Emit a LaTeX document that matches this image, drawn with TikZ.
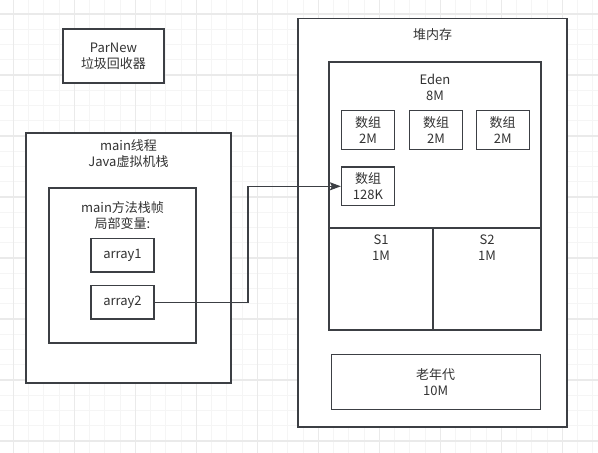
\documentclass[tikz,border=0pt]{standalone}
\usepackage{fontspec}
\setmainfont{Noto Sans CJK SC}
\usetikzlibrary{arrows.meta, positioning}
\definecolor{LineGray}{RGB}{60,63,68}
\definecolor{TextGray}{RGB}{51,51,51}
\definecolor{GridMinor}{RGB}{245,245,245}
\definecolor{GridMajor}{RGB}{234,234,234}

\begin{document}
\begin{tikzpicture}[x=1pt, y=-1pt,
    box/.style={draw=LineGray, line width=1.2pt, fill=white, text=TextGray,
                align=center, inner sep=0pt, font=\fontsize{13}{16}\selectfont},
    txt/.style={text=TextGray, align=center, font=\fontsize{13}{16}\selectfont},
    conn/.style={draw=LineGray, line width=1.2pt, -{Stealth[length=11pt, width=8pt, inset=2pt]}}]
    \useasboundingbox (0,0) rectangle (598,453);
    % background grid
    \foreach \i in {0,...,40} {
        \draw[GridMinor, line width=0.8pt] ({-1.95+15.25*\i},0) -- ({-1.95+15.25*\i},453);
        \draw[GridMinor, line width=0.8pt] (0,{-1.25+15.25*\i}) -- (598,{-1.25+15.25*\i});
    }
    \foreach \i in {0,...,9} {
        \draw[GridMajor, line width=1.2pt] ({13.3+61*\i},0) -- ({13.3+61*\i},453);
        \draw[GridMajor, line width=1.2pt] (0,{14+61*\i}) -- (598,{14+61*\i});
    }

    % left side: collector and thread stack
    \node[box, minimum width=101pt, minimum height=54pt] (parnew) at (113.5,56) {ParNew\\垃圾回收器};
    \node[box, minimum width=205pt, minimum height=250pt] (stack) at (128.5,258) {};
    \node[txt] (stackLbl) at (128.5,153.5) {main线程\\Java虚拟机栈};
    \node[box, minimum width=147pt, minimum height=155pt] (frame) at (122.5,265.5) {};
    \node[txt] (frameLbl) at (122.5,215.5) {main方法栈帧\\局部变量:};
    \node[box, minimum width=63pt, minimum height=33.3pt] (array1) at (122.5,255.3) {array1};
    \node[box, minimum width=63pt, minimum height=33.3pt] (array2) at (122.5,302.3) {array2};

    % right side: heap
    \node[box, minimum width=269pt, minimum height=408.5pt] (heap) at (432.5,222.75) {};
    \node[txt] (heapLbl) at (432.5,35) {堆内存};
    \node[box, minimum width=212pt, minimum height=166pt] (eden) at (435,145) {};
    \node[txt] (edenLbl) at (435,87) {Eden\\8M};
    \node[box, minimum width=53pt, minimum height=38.6pt] (arr1) at (368,130) {数组\\2M};
    \node[box, minimum width=53pt, minimum height=38.6pt] (arr2) at (436,130) {数组\\2M};
    \node[box, minimum width=53pt, minimum height=38.6pt] (arr3) at (502.7,130) {数组\\2M};
    \node[box, minimum width=53pt, minimum height=38.6pt] (arr4) at (368,186.3) {数组\\128K};
    \node[box, minimum width=104pt, minimum height=102pt] (s1) at (381,279) {};
    \node[txt] (s1Lbl) at (381,248) {S1\\1M};
    \node[box, minimum width=108pt, minimum height=102pt] (s2) at (487,279) {};
    \node[txt] (s2Lbl) at (487,248) {S2\\1M};
    \node[box, minimum width=209pt, minimum height=54.3pt] (old) at (435.7,382) {老年代\\10M};

    % reference from array2 to the array
    \coordinate (bend) at (248,302.3);
    \draw[conn] (array2.east) -- (bend) |- (arr4.west);
\end{tikzpicture}
\end{document}
